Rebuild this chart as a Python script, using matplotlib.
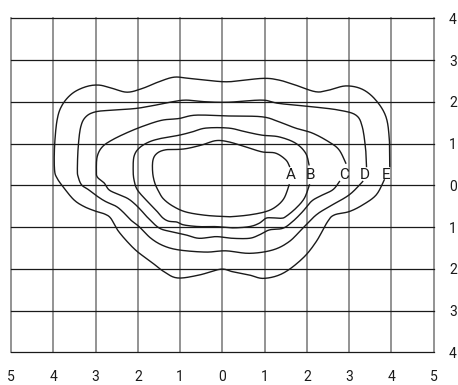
import numpy as np
import matplotlib.pyplot as plt

plt.rcParams['font.family'] = ['Roboto', 'DejaVu Sans']

# contour traces (x, y), each starting at the top of its label
curve_a = [(1.59, 0.45), (1.50, 0.61), (1.26, 0.77), (0.94, 0.80), (0.55, 0.92), (0.15, 1.04),
           (-0.15, 1.07), (-0.47, 0.97), (-0.79, 0.89), (-1.02, 0.86), (-1.34, 0.85), (-1.54, 0.77),
           (-1.64, 0.61), (-1.65, 0.32), (-1.60, 0.06), (-1.50, -0.16), (-1.39, -0.33), (-1.17, -0.50),
           (-0.86, -0.64), (-0.39, -0.72), (0.08, -0.75), (0.24, -0.75), (0.64, -0.71), (1.03, -0.63),
           (1.27, -0.51), (1.46, -0.31), (1.58, 0.01)]
curve_b = [(2.05, 0.49), (1.97, 0.77), (1.73, 1.01), (1.34, 1.16), (0.94, 1.20), (0.55, 1.28),
           (0.15, 1.37), (-0.39, 1.37), (-0.71, 1.28), (-1.02, 1.20), (-1.42, 1.13), (-1.73, 1.04),
           (-1.97, 0.89), (-2.09, 0.69), (-2.11, 0.37), (-2.09, 0.13), (-2.01, -0.11), (-1.77, -0.39),
           (-1.55, -0.62), (-1.41, -0.78), (-1.27, -0.86), (-1.08, -0.88), (-0.91, -0.95), (-0.55, -0.99),
           (-0.15, -0.99), (0.24, -1.02), (0.64, -0.99), (0.87, -0.91), (1.03, -0.79), (1.19, -0.78),
           (1.39, -0.79), (1.50, -0.75), (1.74, -0.55), (1.94, -0.31), (2.06, 0.01)]
curve_c = [(2.92, 0.53), (2.76, 0.85), (2.52, 1.04), (2.13, 1.25), (1.73, 1.37), (1.34, 1.52),
           (0.94, 1.64), (0.15, 1.66), (-0.63, 1.68), (-1.02, 1.60), (-1.42, 1.56), (-1.81, 1.44),
           (-2.21, 1.28), (-2.60, 1.09), (-2.84, 0.92), (-2.96, 0.69), (-2.98, 0.37), (-2.96, 0.20),
           (-2.80, 0.06), (-2.68, -0.11), (-2.48, -0.21), (-2.25, -0.31), (-2.09, -0.43), (-1.93, -0.59),
           (-1.77, -0.77), (-1.50, -1.02), (-1.22, -1.11), (-0.86, -1.19), (-0.55, -1.27), (-0.15, -1.23),
           (0.24, -1.27), (0.64, -1.27), (0.87, -1.19), (1.11, -1.07), (1.43, -1.03), (1.66, -0.87),
           (1.90, -0.63), (2.10, -0.39), (2.29, -0.27), (2.61, -0.11), (2.77, 0.09)]
curve_d = [(3.41, 0.45), (3.39, 0.85), (3.31, 1.40), (3.16, 1.68), (2.76, 1.80), (2.13, 1.88),
           (1.34, 1.96), (0.94, 2.04), (0.15, 1.99), (-0.39, 2.00), (-0.86, 2.04), (-1.18, 2.00),
           (-1.58, 1.92), (-2.05, 1.84), (-2.60, 1.80), (-3.00, 1.76), (-3.23, 1.64), (-3.35, 1.40),
           (-3.41, 0.92), (-3.43, 0.37), (-3.41, 0.20), (-3.33, 0.01), (-3.16, -0.11), (-2.95, -0.27),
           (-2.76, -0.39), (-2.52, -0.50), (-2.36, -0.63), (-2.17, -0.83), (-1.97, -0.99), (-1.69, -1.27),
           (-1.39, -1.45), (-1.02, -1.55), (-0.39, -1.60), (0.08, -1.57), (0.64, -1.63), (1.19, -1.55),
           (1.58, -1.35), (1.90, -1.03), (2.22, -0.71), (2.53, -0.51), (3.00, -0.23), (3.32, 0.09)]
curve_e = [(3.96, 0.45), (3.95, 1.09), (3.87, 1.64), (3.63, 2.04), (3.31, 2.30), (2.92, 2.38),
           (2.52, 2.28), (2.21, 2.24), (1.73, 2.40), (1.34, 2.52), (0.94, 2.56), (0.15, 2.48),
           (-0.39, 2.52), (-0.79, 2.56), (-1.14, 2.59), (-1.50, 2.48), (-1.89, 2.32), (-2.25, 2.23),
           (-2.60, 2.32), (-2.92, 2.40), (-3.23, 2.36), (-3.55, 2.20), (-3.79, 1.92), (-3.91, 1.56),
           (-3.97, 0.92), (-3.97, 0.37), (-3.91, 0.17), (-3.75, -0.06), (-3.51, -0.35), (-3.27, -0.51),
           (-3.00, -0.62), (-2.78, -0.69), (-2.64, -0.79), (-2.48, -1.07), (-2.25, -1.35), (-2.01, -1.59),
           (-1.69, -1.83), (-1.38, -2.07), (-1.06, -2.22), (-0.55, -2.15), (-0.04, -2.01), (0.24, -2.07),
           (0.64, -2.15), (0.98, -2.23), (1.43, -2.11), (1.90, -1.75), (2.22, -1.35), (2.49, -0.87),
           (2.65, -0.71), (3.00, -0.63), (3.32, -0.47), (3.64, -0.23), (3.83, 0.13)]

curves = [curve_a, curve_b, curve_c, curve_d, curve_e]
labels = ['A', 'B', 'C', 'D', 'E']
label_x = [1.62, 2.08, 2.89, 3.38, 3.87]
label_y = 0.25

x_ticks = list(range(-5, 6))
y_ticks = list(range(-4, 5))


def smooth(pts, n=12):
    """Catmull-Rom pass through the traced points, only for drawing."""
    p = np.array(pts, dtype=float)
    p = np.vstack([p[0], p, p[-1]])
    t = np.linspace(0, 1, n, endpoint=False)[:, None]
    out = []
    for i in range(1, len(p) - 2):
        p0, p1, p2, p3 = p[i - 1], p[i], p[i + 1], p[i + 2]
        seg = 0.5 * ((2 * p1) + (-p0 + p2) * t + (2 * p0 - 5 * p1 + 4 * p2 - p3) * t**2
                     + (-p0 + 3 * p1 - 3 * p2 + p3) * t**3)
        out.append(seg)
    out.append(p[-2][None, :])
    return np.vstack(out)


fig = plt.figure(figsize=(4.58, 3.85), dpi=100)
ax = fig.add_axes([0.024, 0.085, 0.923, 0.8675])
ax.set_xlim(-5, 5)
ax.set_ylim(-4, 4)

# grid: vertical lines grey, horizontal lines black
for xv in x_ticks:
    ax.axvline(xv, color='#808080', lw=1.2, clip_on=False, zorder=1)
for yv in y_ticks:
    ax.axhline(yv, color='#1a1a1a', lw=0.9, clip_on=False, zorder=1)

for pts, lab, lx in zip(curves, labels, label_x):
    arr = smooth(pts)
    ax.plot(arr[:, 0], arr[:, 1], color='#1a1a1a', lw=1.0, zorder=2)
    ax.text(lx, label_y, lab, fontsize=11, ha='center', va='center', color='#1a1a1a', zorder=3)

for s in ax.spines.values():
    s.set_visible(False)

ax.set_xticks(x_ticks)
ax.set_xticklabels([str(abs(v)) for v in x_ticks])
ax.set_yticks(y_ticks)
ax.set_yticklabels([str(abs(v)) for v in y_ticks])
ax.yaxis.tick_right()
ax.tick_params(axis='x', length=0, pad=13, labelsize=10, colors='#1a1a1a')
ax.tick_params(axis='y', length=0, pad=11, labelsize=10, colors='#1a1a1a')

fig.savefig('out.png', dpi=100)
